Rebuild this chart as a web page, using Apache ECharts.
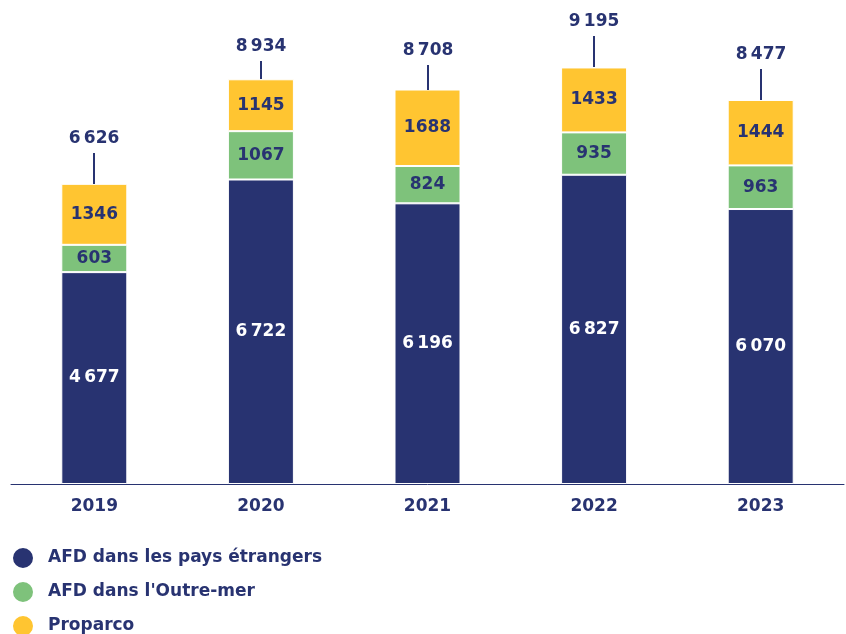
<!DOCTYPE html>
<html>
<head>
<meta charset="utf-8">
<script src="https://cdn.jsdelivr.net/npm/echarts@6/dist/echarts.min.js"></script>
<style>
  html, body { margin: 0; padding: 0; background: #ffffff; }
  #chart { width: 846px; height: 634px; }
</style>
</head>
<body>
<div id="chart"></div>
<script>
// Engagements par entité (millions d'euros)
const years = ['2019', '2020', '2021', '2022', '2023'];
const afdEtrangers = [4677, 6722, 6196, 6827, 6070];
const afdOutreMer = [603, 1067, 824, 935, 963];
const proparco = [1346, 1145, 1688, 1433, 1444];
const totals = [6626, 8934, 8708, 9195, 8477];

// Leader line length (px) under each total label
const leaderLengths = [31, 18, 25, 31, 31];

const NAVY = '#283371';
const GREEN = '#7EC27B';
const YELLOW = '#FFC531';
const FONT = '"DejaVu Sans"';
const FONT_SIZE = 17;

// Thousands grouped with a thin space (e.g. 6 626)
function fmt(v) {
  const s = String(v);
  return s.slice(0, s.length - 3) + '\u2009' + s.slice(-3);
}

const chart = echarts.init(document.getElementById('chart'));

function segLabel(color) {
  return {
    show: true,
    position: 'inside',
    color: color,
    fontFamily: FONT,
    fontWeight: 'bold',
    fontSize: FONT_SIZE,
    formatter: p => (p.value >= 2000 ? fmt(p.value) : String(p.value))
  };
}

chart.setOption({
  animation: false,
  grid: { left: 11, right: 2, top: 31, bottom: 150, containLabel: false },
  xAxis: {
    type: 'category',
    data: years,
    axisLine: { show: true, lineStyle: { color: NAVY, width: 1 } },
    axisTick: { show: false },
    axisLabel: {
      color: NAVY, fontFamily: FONT, fontWeight: 'bold', fontSize: FONT_SIZE, margin: 14
    }
  },
  yAxis: {
    type: 'value',
    min: 0,
    max: 10000,
    show: false,
    splitLine: { show: false }
  },
  legend: {
    orient: 'vertical',
    left: 11,
    top: 546,
    height: 120,
    padding: 0,
    icon: 'circle',
    itemWidth: 22,
    itemHeight: 22,
    itemGap: 10,
    data: ['AFD dans les pays étrangers', "AFD dans l'Outre-mer", 'Proparco'],
    textStyle: {
      color: NAVY, fontFamily: FONT, fontWeight: 'bold', fontSize: FONT_SIZE,
      padding: [0, 0, 0, 9]
    }
  },
  series: [
    {
      name: 'AFD dans les pays étrangers',
      type: 'bar',
      stack: 'total',
      barWidth: 66,
      data: afdEtrangers,
      itemStyle: { color: NAVY, borderColor: '#ffffff', borderWidth: 1 },
      label: segLabel('#ffffff')
    },
    {
      name: "AFD dans l'Outre-mer",
      type: 'bar',
      stack: 'total',
      barWidth: 66,
      data: afdOutreMer,
      itemStyle: { color: GREEN, borderColor: '#ffffff', borderWidth: 1 },
      label: segLabel(NAVY)
    },
    {
      name: 'Proparco',
      type: 'bar',
      stack: 'total',
      barWidth: 66,
      data: proparco,
      itemStyle: { color: YELLOW, borderColor: '#ffffff', borderWidth: 1 },
      label: segLabel(NAVY)
    },
    {
      // Total above each bar, on a short vertical leader line
      name: 'Total',
      type: 'custom',
      data: totals.map((t, i) => [i, t]),
      encode: { x: 0, y: 1 },
      z: 5,
      silent: true,
      renderItem: function (params, api) {
        const pt = api.coord([api.value(0), api.value(1)]);
        const x = Math.round(pt[0]);
        const y = Math.round(pt[1]);
        const len = leaderLengths[params.dataIndex];
        return {
          type: 'group',
          children: [
            {
              type: 'line',
              shape: { x1: x, y1: y, x2: x, y2: y - len },
              style: { stroke: NAVY, lineWidth: 2 }
            },
            {
              type: 'text',
              x: x,
              y: y - len - 23,
              style: {
                text: fmt(api.value(1)),
                fill: NAVY,
                opacity: 1,
                font: 'bold ' + FONT_SIZE + 'px "DejaVu Sans"',
                align: 'center',
                verticalAlign: 'top'
              }
            }
          ]
        };
      }
    }
  ]
});
</script>
</body>
</html>
